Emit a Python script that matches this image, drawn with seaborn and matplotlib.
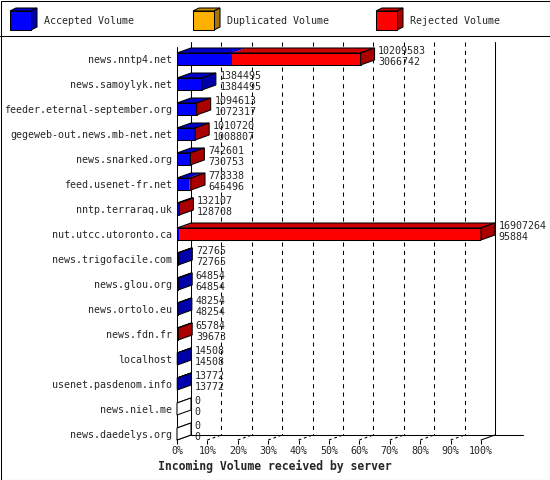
import numpy as np
import pandas as pd
import matplotlib
matplotlib.use("Agg")
import matplotlib.pyplot as plt
import seaborn as sns
from matplotlib.patches import Polygon, Rectangle
from matplotlib.lines import Line2D

# -------------------------------------------------
# Data
# -------------------------------------------------
hosts = [
    "news.nntp4.net", "news.samoylyk.net", "feeder.eternal-september.org",
    "gegeweb-out.news.mb-net.net", "news.snarked.org", "feed.usenet-fr.net",
    "nntp.terraraq.uk", "nut.utcc.utoronto.ca", "news.trigofacile.com",
    "news.glou.org", "news.ortolo.eu", "news.fdn.fr", "localhost",
    "usenet.pasdenom.info", "news.niel.me", "news.daedelys.org",
]
total_volume = [10209583, 1384495, 1094613, 1010720, 742601, 778338, 132107,
                16907264, 72765, 64854, 48254, 65784, 14508, 13772, 0, 0]
accepted_volume = [3066742, 1384495, 1072317, 1008807, 730753, 645496, 128708,
                   95884, 72765, 64854, 48254, 39673, 14508, 13772, 0, 0]
duplicated_volume = [0] * len(hosts)

series_names = ["Accepted Volume", "Duplicated Volume", "Rejected Volume"]
front_colors = ["#0000FF", "#FFB000", "#FF0000"]
top_colors = ["#0000CC", "#CC8C00", "#CC0000"]
side_colors = ["#0000AA", "#AA7500", "#AA0000"]

df = pd.DataFrame({
    "host": hosts,
    "total": total_volume,
    "accepted": accepted_volume,
    "duplicated": duplicated_volume,
})
vmax = df["total"].max()
df["acc_pct"] = df["accepted"] / vmax * 100
df["accdup_pct"] = (df["accepted"] + df["duplicated"]) / vmax * 100
df["tot_pct"] = df["total"] / vmax * 100

# -------------------------------------------------
# Figure setup
# -------------------------------------------------
sns.set_theme(style="white")
plt.rcParams["font.family"] = ["DejaVu Sans Mono"]
plt.rcParams["lines.scale_dashes"] = False

W, H = 550, 480
fig = plt.figure(figsize=(W / 100, H / 100), dpi=100)
fig.patch.set_facecolor("white")

def fx(px):
    return px / W

def fy(py):
    return 1 - py / H

# plot area: front plane 0%..100% -> x 177..481 px, y 47..440 px
ax = fig.add_axes([fx(177), fy(440), fx(481) - fx(177), fy(47) - fy(440)])
ax.set_facecolor("none")

bar_w = 0.48
half = bar_w / 2
dx = 14 / 3.04     # depth in percent units
dy = -0.2          # depth in row units (up)
y_top, y_bot = -half * 2, len(hosts) - 1 + half

lw = 0.75
dash = (0, (3, 3))

# back plane grid
for g in range(10, 100, 10):
    ax.add_line(Line2D([g + dx, g + dx], [y_top + dy, y_bot + dy], color="black",
                       lw=lw, linestyle=dash, clip_on=False, zorder=1))
    ax.add_line(Line2D([g, g + dx], [y_bot, y_bot + dy], color="black",
                       lw=lw, linestyle=(0, (2, 2)), clip_on=False, zorder=1))
for g in (0, 100):
    ax.add_line(Line2D([g + dx, g + dx], [y_top + dy, y_bot + dy], color="black",
                       lw=lw, clip_on=False, zorder=1))
    ax.add_line(Line2D([g, g + dx], [y_bot, y_bot + dy], color="black",
                       lw=lw, clip_on=False, zorder=1))
ax.add_line(Line2D([dx, (523 - 177) / 3.04], [y_bot + dy, y_bot + dy],
                   color="black", lw=lw, clip_on=False, zorder=1))
ax.add_line(Line2D([0, 0], [y_top, y_bot], color="black", lw=lw,
                   clip_on=False, zorder=1))

# front faces
sns.barplot(data=df, x="tot_pct", y="host", orient="h", color=front_colors[2],
            saturation=1, width=bar_w, edgecolor="none", ax=ax, zorder=3)
sns.barplot(data=df, x="accdup_pct", y="host", orient="h", color=front_colors[1],
            saturation=1, width=bar_w, edgecolor="none", ax=ax, zorder=3)
sns.barplot(data=df, x="acc_pct", y="host", orient="h", color=front_colors[0],
            saturation=1, width=bar_w, edgecolor="none", ax=ax, zorder=3)
sns.barplot(data=df, x="tot_pct", y="host", orient="h", fill=False,
            width=bar_w, edgecolor="black", linewidth=lw, ax=ax, zorder=4)

# top and side faces of the 3D bars
for i, row in df.iterrows():
    bounds = [0, row["acc_pct"], row["accdup_pct"], row["tot_pct"]]
    yt, yb = i - half, i + half
    for k in range(3):
        a, b = bounds[k], bounds[k + 1]
        if b > a:
            ax.add_patch(Polygon([(a, yt), (b, yt), (b + dx, yt + dy), (a + dx, yt + dy)],
                                 closed=True, facecolor=top_colors[k],
                                 edgecolor="none", zorder=3, clip_on=False))
    end = row["tot_pct"]
    side = "white"
    for k in range(3):
        if bounds[k + 1] > bounds[k]:
            side = side_colors[k]
    ax.add_patch(Polygon([(0, yt), (end, yt), (end + dx, yt + dy), (dx, yt + dy)],
                         closed=True, facecolor="none", edgecolor="black",
                         lw=lw, zorder=4, clip_on=False))
    ax.add_patch(Polygon([(end, yt), (end, yb), (end + dx, yb + dy), (end + dx, yt + dy)],
                         closed=True, facecolor=side, edgecolor="black",
                         lw=lw, zorder=4, clip_on=False))
    tx = end + dx + 1.2
    ax.text(tx, i - 0.1 - 0.215, f"{row['total']}", fontsize=7.2,
            va="center", ha="left", zorder=5, clip_on=False)
    ax.text(tx, i - 0.1 + 0.215, f"{row['accepted']}", fontsize=7.2,
            va="center", ha="left", zorder=5, clip_on=False)

ax.set_xlim(0, 100)
ax.set_ylim(y_bot, y_top)
ax.set_xticks(range(0, 101, 10))
ax.set_xticklabels([f"{t}%" for t in range(0, 101, 10)], fontsize=7.2)
ax.tick_params(axis="x", direction="out", length=3, width=lw, pad=1.5,
               bottom=True, color="black")
ax.tick_params(axis="y", length=0, pad=3.6, labelsize=7.2)
ax.set_xlabel("")
ax.set_ylabel("")
for s in ax.spines.values():
    s.set_visible(False)
ax.grid(False)

fig.text(fx(275), fy(466), "Incoming Volume received by server",
         fontsize=8.3, fontweight="bold", ha="center", va="center")

# -------------------------------------------------
# Legend strip and border
# -------------------------------------------------
legend_x = [10, 193, 376]
for k, name in enumerate(series_names):
    x0 = legend_x[k]
    x1, y0, y1 = x0 + 21, 11, 30
    cdx, cdy = 6, 3
    pts_front = [(x0, y0), (x1, y0), (x1, y1), (x0, y1)]
    pts_top = [(x0, y0), (x1, y0), (x1 + cdx, y0 - cdy), (x0 + cdx, y0 - cdy)]
    pts_side = [(x1, y0), (x1 + cdx, y0 - cdy), (x1 + cdx, y1 - cdy), (x1, y1)]
    for pts, col in ((pts_top, top_colors[k]), (pts_side, side_colors[k]),
                     (pts_front, front_colors[k])):
        fig.add_artist(Polygon([(fx(px), fy(py)) for px, py in pts], closed=True,
                               facecolor=col, edgecolor="black", lw=lw,
                               transform=fig.transFigure))
    fig.text(fx(x0 + 34), fy(21), name, fontsize=7.2, ha="left", va="center")

fig.add_artist(Line2D([0, 1], [fy(36), fy(36)], color="black", lw=lw,
                      transform=fig.transFigure))
fig.add_artist(Rectangle((fx(0.5), fy(479.5)), fx(549), fy(0.5) - fy(479.5),
                         fill=False, edgecolor="black", lw=lw,
                         transform=fig.transFigure))

fig.savefig("out.png", dpi=100)
plt.close(fig)
